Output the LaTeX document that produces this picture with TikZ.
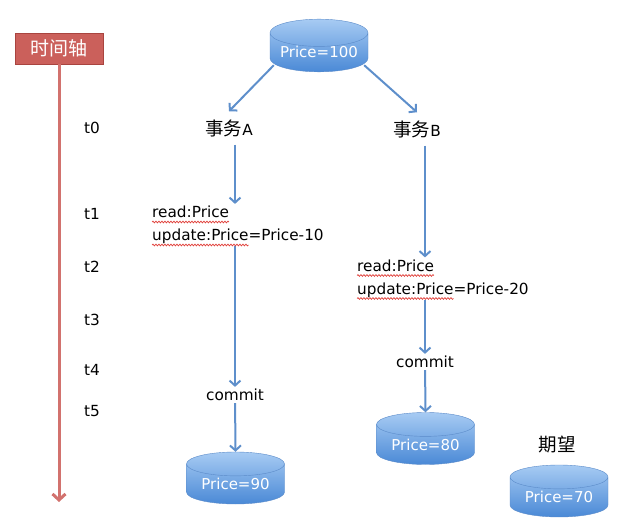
\documentclass[tikz,border=0pt]{standalone}
\usepackage{fontspec}
\setmainfont{DejaVu Sans}
\newfontfamily\cjk{Noto Sans CJK SC}
\usepackage{tikz}
\usepackage{xcolor}
\usetikzlibrary{shapes.geometric,arrows.meta,calc,decorations.pathmorphing}
\definecolor{dbtop}{HTML}{A7CBF3}
\definecolor{dbbottom}{HTML}{4A89D6}
\definecolor{dbline}{HTML}{5B8BC9}
\definecolor{flow}{HTML}{5E8FCB}
\definecolor{axisred}{HTML}{D2726E}
\definecolor{axisfill}{HTML}{CB605B}
\definecolor{axisdraw}{HTML}{A9443F}
\definecolor{spell}{HTML}{E0403A}
\newcommand\linefont{\fontsize{15.3}{23}\selectfont}
\newcommand\cjkfont{\cjk\fontsize{18.5}{20}\selectfont}
\newlength\readwd
\newlength\updatewd

\begin{document}
\settowidth\readwd{\linefont read:Price}
\settowidth\updatewd{\linefont update:Price}
\begin{tikzpicture}[x=1pt,y=-1pt,
  txt/.style={inner sep=2pt, font=\linefont},
  task/.style={inner sep=8pt, font=\linefont},
  db/.style={cylinder, shape border rotate=90, aspect=0.35, draw=dbline,
    top color=dbtop, bottom color=dbbottom, minimum width=98pt,
    minimum height=52pt, inner sep=0pt, text=white,
    font=\fontsize{15}{17}\selectfont},
  flowline/.style={draw=flow, line width=2pt,
    -{Straight Barb[length=5pt,width=11pt]}},
  axisline/.style={draw=axisred, line width=3pt,
    -{Straight Barb[length=6pt,width=13pt]}},
  squiggle/.style={draw=spell, line width=0.7pt, decorate,
    decoration={snake, amplitude=0.9pt, segment length=3pt}}]
\useasboundingbox (0,0) rectangle (619,529);
% time axis
\node [draw=axisdraw, fill=axisfill, text=white, minimum width=88pt,
  minimum height=31pt, font=\cjk\fontsize{19}{20}\selectfont] (axis) at (59,48.5) {时间轴};
\coordinate (axisend) at (59,502);
\draw [axisline] (axis.south) -- (axisend);
\foreach \t/\y in {0/128,1/214,2/267,3/320,4/370,5/411}
  \node [txt] (t\t) at (92,\y) {t\t};
% start value
\node [db, anchor=shape center] (p100) at (319,45.5) {Price=100};
\node [task] (taskA) at (229,128) {{\cjkfont 事务}A};
\node [task] (taskB) at (417,129) {{\cjkfont 事务}B};
\draw [flowline] ([xshift=4pt,yshift=-7pt]p100.after bottom) -- (taskA.north);
\draw [flowline] ([xshift=-4pt,yshift=-7pt]p100.before bottom) -- (taskB.north);
% transaction A
\node [txt, align=left, anchor=west] (readA) at (150,225) {read:Price\\update:Price=Price-10};
\node [txt] (commitA) at (235,395) {commit};
\node [db, anchor=shape center] (p90) at (235.5,478) {Price=90};
\draw [flowline] (taskA.south -| commitA) -- (readA.north -| commitA);
\draw [flowline] (readA.south -| commitA) -- (commitA);
\draw [flowline] (commitA) -- (p90.north);
% transaction B
\node [txt, align=left, anchor=west] (readB) at (355,278.5) {read:Price\\update:Price=Price-20};
\node [txt] (commitB) at (425,362) {commit};
\node [db, anchor=shape center] (p80) at (425.5,438.5) {Price=80};
\draw [flowline] (taskB.south -| commitB) -- (readB.north -| commitB);
\draw [flowline] (readB.south -| commitB) -- (commitB);
\draw [flowline] (commitB) -- (p80.north);
% spell check marks
\foreach \r in {readA,readB} {
  \draw [squiggle] ($(\r.west)+(2,-3)$) -- ++(\readwd,0pt);
  \draw [squiggle] ($(\r.west)+(2,20)$) -- ++(\updatewd,0pt);
}
% expected
\node [txt, font=\cjkfont] (expect) at (557,445) {期望};
\node [db, anchor=shape center] (p70) at (559,491) {Price=70};
\end{tikzpicture}
\end{document}
